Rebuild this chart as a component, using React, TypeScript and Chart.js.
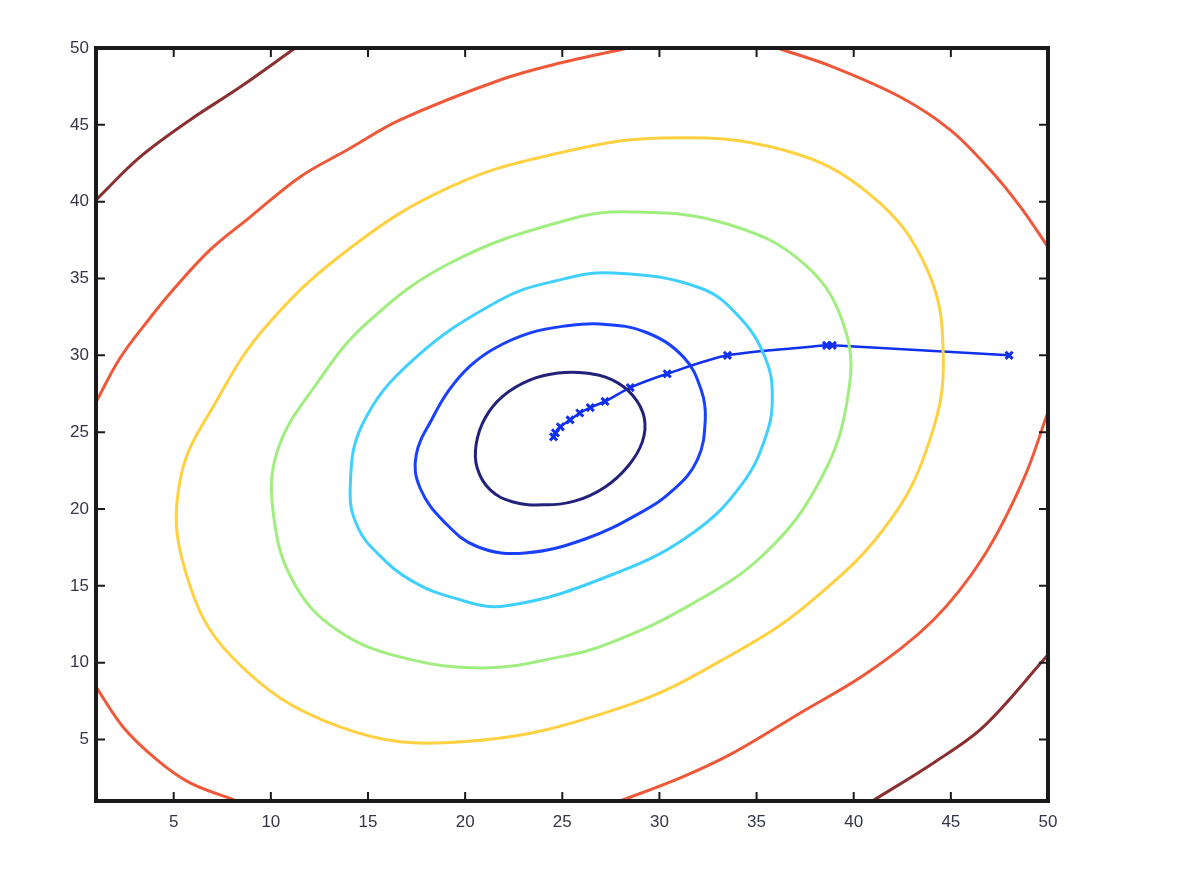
import React, { useEffect, useRef } from "react";
import { Chart, registerables } from "chart.js";

Chart.register(...registerables);

type Pt = [number, number];

const xTicks = [5, 10, 15, 20, 25, 30, 35, 40, 45, 50];
const yTicks = [5, 10, 15, 20, 25, 30, 35, 40, 45, 50];

const navyContour: Pt[] = [
  [24.79, 28.85], [26.18, 28.85], [27.57, 28.4], [28.65, 27.36], [29.22, 25.93],
  [29.12, 24.37], [28.39, 22.8], [27.21, 21.44], [25.67, 20.53], [24.02, 20.27],
  [22.47, 20.46], [21.29, 21.24], [20.62, 22.67], [20.57, 24.24], [21.03, 25.93],
  [21.96, 27.36], [23.35, 28.4],
];

const blueContour: Pt[] = [
  [26.95, 32.04], [29.27, 31.52], [31.23, 29.9], [32.15, 27.75], [32.36, 25.8],
  [31.95, 23.19], [30.71, 21.24], [29.01, 19.75], [26.18, 18.05], [23.09, 17.14],
  [20.67, 17.53], [18.97, 19.1], [17.68, 21.37], [17.48, 23.52], [18.35, 25.99],
  [19.18, 27.75], [20.26, 29.31], [21.55, 30.48], [23.35, 31.46], [25.15, 31.91],
];

const cyanContour: Pt[] = [
  [27.62, 35.36], [32.1, 34.38], [34.16, 32.43], [35.45, 29.83], [35.81, 27.42],
  [35.5, 24.82], [34.26, 21.63], [31.79, 18.51], [27.93, 15.91], [22.11, 13.7],
  [19.23, 14.28], [17.17, 15.39], [15.62, 16.95], [14.49, 18.77], [14.08, 21.24],
  [14.7, 25.47], [17.32, 29.7], [21.8, 33.6], [24.64, 34.84],
];

const greenContour: Pt[] = [
  [28.65, 39.33], [33.49, 38.55], [37.51, 35.88], [39.57, 31.65], [39.67, 27.1],
  [38.28, 21.89], [35.45, 17.14], [31.59, 13.76], [27.47, 11.29], [24.89, 10.38],
  [20.93, 9.66], [16.65, 10.38], [13.41, 12.13], [11.25, 15.06], [10.17, 19.29],
  [10.32, 23.71], [12.38, 28.2], [14.95, 32.11], [19.23, 36.01], [25.25, 38.81],
];

const yellowContour: Pt[] = [
  [30.15, 44.14], [36.38, 43.36], [40.86, 40.44], [43.79, 35.56], [44.61, 29.83],
  [43.95, 24.63], [41.89, 19.29], [38.08, 14.28], [33.96, 10.7], [27.98, 7.06],
  [19.85, 4.85], [13.56, 5.82], [8.05, 10.31], [5.58, 16.04], [5.33, 21.89],
  [7.23, 27.1], [9.86, 32.04], [14.29, 37.18], [19.23, 40.96], [24.38, 43.04],
];

const orangeUpperLeft: Pt[] = [
  [1, 26.97], [2.24, 29.83], [3.78, 32.43], [4.96, 34.25], [6.87, 36.86],
  [8.93, 39.0], [11.5, 41.61], [13.92, 43.36], [16.65, 45.32], [21.8, 47.92],
  [24.89, 49.02], [28.39, 50],
];
const orangeUpperRight: Pt[] = [
  [36.07, 50], [38.95, 48.76], [42.4, 46.81], [44.98, 44.66], [47.03, 42.06],
  [48.58, 39.66], [50, 37.05],
];
const orangeLowerRight: Pt[] = [
  [50, 26.32], [48.73, 21.89], [46.67, 16.88], [44.1, 12.78], [40.7, 9.34],
  [37.25, 6.73], [33.8, 4.13], [31.07, 2.5], [27.98, 1],
];
const orangeLowerLeft: Pt[] = [
  [1, 8.43], [2.39, 5.82], [4.14, 3.68], [5.84, 2.18], [8.26, 1],
];

const brownUpperLeft: Pt[] = [
  [1, 40.11], [3.27, 42.91], [5.84, 45.32], [8.42, 47.46], [11.25, 50],
];
const brownLowerRight: Pt[] = [
  [40.96, 1], [44.1, 3.48], [46.67, 5.82], [50, 10.51],
];

const descentPath: Pt[] = [
  [48, 30], [38.9, 30.65], [38.6, 30.65], [33.5, 30.0], [30.4, 28.8],
  [28.5, 27.9], [27.2, 27.0], [26.44, 26.6], [25.9, 26.25], [25.4, 25.8],
  [24.9, 25.35], [24.65, 24.95], [24.55, 24.7],
];

const COLORS = {
  navy: "#22227a",
  blue: "#1a40ff",
  cyan: "#40d0ff",
  green: "#a0ee80",
  yellow: "#ffd040",
  orange: "#f0583a",
  brown: "#8a3030",
  path: "#1030f0",
};

const TENSION = 0.4;

const toData = (pts: Pt[]) => pts.map(([x, y]) => ({ x, y }));

// Closed contour: wrap one point on each side so the spline is smooth at the seam,
// and hide the two wrap segments.
const closedSet = (pts: Pt[], color: string) => {
  const n = pts.length;
  const wrapped: Pt[] = [pts[n - 1], ...pts, pts[0], pts[1]];
  const last = wrapped.length - 1;
  return {
    data: toData(wrapped),
    showLine: true,
    borderColor: color,
    backgroundColor: color,
    borderWidth: 3,
    pointRadius: 0,
    tension: TENSION,
    fill: false,
    clip: 0,
    segment: {
      borderColor: (ctx: any) =>
        ctx.p0DataIndex === 0 || ctx.p1DataIndex === last ? "rgba(0,0,0,0)" : undefined,
    },
  };
};

const openSet = (pts: Pt[], color: string) => ({
  data: toData(pts),
  showLine: true,
  borderColor: color,
  backgroundColor: color,
  borderWidth: 3,
  pointRadius: 0,
  tension: 0.35,
  fill: false,
  clip: 0,
});

const framePlugin = {
  id: "frame",
  afterDatasetsDraw(chart: any) {
    const { ctx, chartArea: a, scales } = chart;
    const xs = scales.x;
    const ys = scales.y;
    const L = 9;
    ctx.save();
    ctx.strokeStyle = "#1a1a1a";
    ctx.lineWidth = 2;
    ctx.beginPath();
    xTicks.forEach((v) => {
      const px = xs.getPixelForValue(v);
      if (px < a.right - 2) {
        ctx.moveTo(px, a.bottom);
        ctx.lineTo(px, a.bottom - L);
        ctx.moveTo(px, a.top);
        ctx.lineTo(px, a.top + L);
      }
    });
    yTicks.forEach((v) => {
      const py = ys.getPixelForValue(v);
      if (py > a.top + 2) {
        ctx.moveTo(a.left, py);
        ctx.lineTo(a.left + L, py);
        ctx.moveTo(a.right, py);
        ctx.lineTo(a.right - L, py);
      }
    });
    ctx.stroke();
    ctx.lineWidth = 4;
    ctx.strokeRect(a.left, a.top, a.right - a.left, a.bottom - a.top);
    ctx.restore();
  },
};

export default function App() {
  const ref = useRef<HTMLCanvasElement | null>(null);

  useEffect(() => {
    if (!ref.current) return;
    const tickFont = { family: "'Liberation Sans', Arial, sans-serif", size: 17 };
    const chart = new Chart(ref.current, {
      type: "scatter",
      data: {
        datasets: [
          openSet(brownUpperLeft, COLORS.brown),
          openSet(brownLowerRight, COLORS.brown),
          openSet(orangeUpperLeft, COLORS.orange),
          openSet(orangeUpperRight, COLORS.orange),
          openSet(orangeLowerRight, COLORS.orange),
          openSet(orangeLowerLeft, COLORS.orange),
          closedSet(yellowContour, COLORS.yellow),
          closedSet(greenContour, COLORS.green),
          closedSet(cyanContour, COLORS.cyan),
          closedSet(blueContour, COLORS.blue),
          closedSet(navyContour, COLORS.navy),
          {
            data: toData(descentPath),
            showLine: true,
            borderColor: COLORS.path,
            backgroundColor: COLORS.path,
            borderWidth: 2.5,
            pointStyle: "crossRot",
            pointRadius: 5,
            pointBorderWidth: 3,
            pointBorderColor: COLORS.path,
            tension: 0.25,
            clip: 0,
          } as any,
        ],
      },
      options: {
        animation: false,
        responsive: true,
        maintainAspectRatio: false,
        layout: { padding: { left: 0, top: 40, right: 130, bottom: 47 } },
        plugins: {
          legend: { display: false },
          tooltip: { enabled: false },
        },
        scales: {
          x: {
            type: "linear",
            min: 1,
            max: 50,
            afterBuildTicks: (s: any) => {
              s.ticks = xTicks.map((v) => ({ value: v }));
            },
            afterFit: (s: any) => {
              s.height = 40;
            },
            grid: { display: false, drawTicks: false },
            border: { display: false },
            ticks: {
              autoSkip: false,
              maxRotation: 0,
              padding: 11,
              color: "#34344a",
              font: tickFont,
            },
          },
          y: {
            type: "linear",
            min: 1,
            max: 50,
            afterBuildTicks: (s: any) => {
              s.ticks = yTicks.map((v) => ({ value: v }));
            },
            afterFit: (s: any) => {
              s.width = 88;
            },
            grid: { display: false, drawTicks: false },
            border: { display: false },
            ticks: {
              autoSkip: false,
              padding: 7,
              color: "#34344a",
              font: tickFont,
            },
          },
        },
      } as any,
      plugins: [framePlugin],
    });
    return () => chart.destroy();
  }, []);

  return (
    <div style={{ position: "relative", width: 1170, height: 880 }}>
      <canvas ref={ref} />
    </div>
  );
}
